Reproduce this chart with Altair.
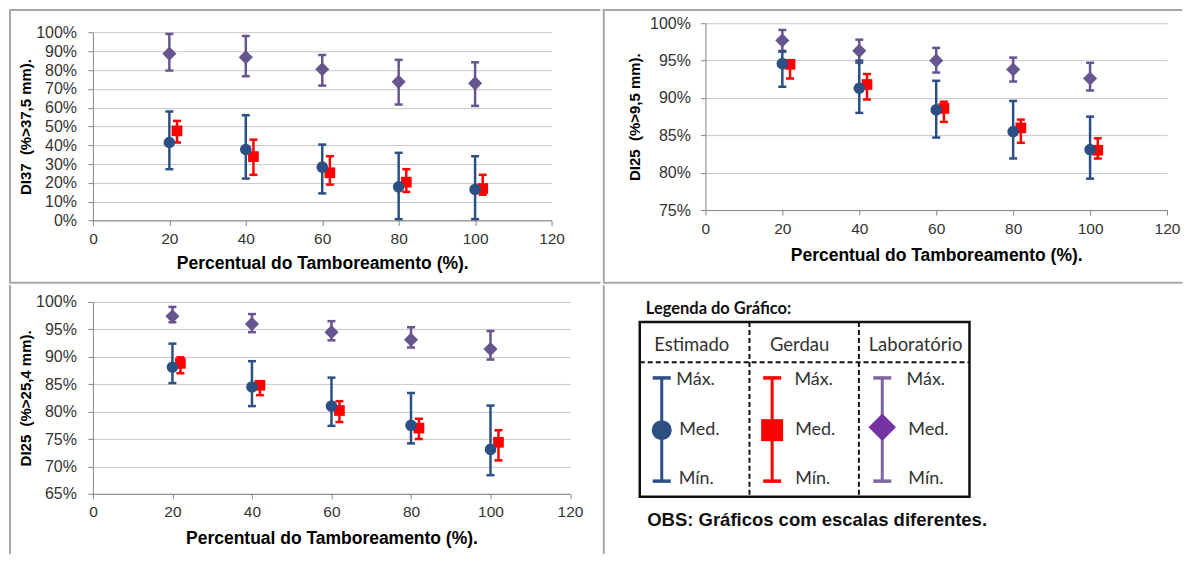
import altair as alt
import pandas as pd

# ---------------- data ----------------
x_est = [20, 40, 60, 80, 100]
x_ger = [22, 42, 62, 82, 102]
x_ticks = [0, 20, 40, 60, 80, 100, 120]
x_title = "Percentual do Tamboreamento (%)."

# Panel 1: DI37 (%>37,5 mm)
p1_est_med = [41.5, 37.8, 28.4, 17.9, 16.5]
p1_est_max = [58.0, 56.0, 40.4, 36.0, 34.2]
p1_est_min = [27.3, 22.3, 14.4, 0.7, 0.7]
p1_ger_med = [47.7, 34.0, 25.4, 20.4, 17.0]
p1_ger_max = [53.0, 43.0, 34.2, 27.3, 24.3]
p1_ger_min = [41.5, 24.3, 19.1, 15.2, 13.7]
p1_lab_med = [88.8, 86.9, 80.5, 73.8, 73.0]
p1_lab_max = [99.3, 98.2, 88.1, 85.5, 84.2]
p1_lab_min = [79.8, 76.8, 71.8, 61.7, 61.0]
p1_y_ticks = [0, 10, 20, 30, 40, 50, 60, 70, 80, 90, 100]
p1_y_title = "DI37\u00a0 (%>37,5 mm)."

# Panel 2: DI25 (%>9,5 mm)
p2_est_med = [94.6, 91.3, 88.4, 85.5, 83.1]
p2_est_max = [96.2, 95.0, 92.3, 89.6, 87.5]
p2_est_min = [91.5, 88.0, 84.7, 81.9, 79.2]
p2_ger_med = [94.5, 91.8, 88.6, 86.0, 83.0]
p2_ger_max = [95.0, 93.2, 89.5, 87.1, 84.6]
p2_ger_min = [92.6, 89.8, 86.8, 84.0, 81.9]
p2_lab_med = [97.7, 96.3, 95.0, 93.8, 92.6]
p2_lab_max = [99.1, 97.8, 96.7, 95.4, 94.7]
p2_lab_min = [96.3, 94.7, 93.4, 92.2, 91.0]
p2_y_ticks = [75, 80, 85, 90, 95, 100]
p2_y_title = "DI25\u00a0 (%>9,5 mm)."

# Panel 3: DI25 (%>25,4 mm)
p3_est_med = [88.1, 84.5, 81.0, 77.5, 73.1]
p3_est_max = [92.4, 89.2, 86.2, 83.4, 81.1]
p3_est_min = [85.2, 81.0, 77.4, 74.2, 68.4]
p3_ger_med = [88.8, 84.8, 80.2, 77.0, 74.4]
p3_ger_max = [89.9, 85.5, 81.9, 78.7, 76.6]
p3_ger_min = [87.0, 83.0, 78.1, 75.0, 71.1]
p3_lab_med = [97.4, 96.0, 94.5, 93.1, 91.4]
p3_lab_max = [99.1, 97.8, 96.5, 95.4, 94.7]
p3_lab_min = [96.3, 94.5, 93.0, 91.7, 89.5]
p3_y_ticks = [65, 70, 75, 80, 85, 90, 95, 100]
p3_y_title = "DI25\u00a0 (%>25,4 mm)."

series_names = ["Estimado", "Gerdau", "Laboratório"]
level_names = ["Máx.", "Med.", "Mín."]
legend_title = "Legenda do Gráfico:"
obs_text = "OBS: Gráficos com escalas diferentes."

# ---------------- styles ----------------
BLUE = "#2C5084"
RED = "#FF0000"
PURPLE = "#66558F"
LEG_PURPLE = "#7E659F"
LEG_DIAMOND = "#7433A3"
BORDER = "#A8A8A8"
FONT = "Liberation Sans"
LFONT = "Lato"

styles = {
    "Estimado": dict(color=BLUE, shape="circle", size=135),
    "Gerdau": dict(color=RED, shape="square", size=115),
    "Laboratório": dict(color=PURPLE, shape="diamond", size=200),
}


def one(val=0):
    return pd.DataFrame({"k": [val]})


def frame(x1, x2, y1, y2):
    return alt.Chart(one()).mark_rect(fill="white", opacity=0).encode(
        x=alt.value(x1), x2=alt.value(x2), y=alt.value(y1), y2=alt.value(y2)
    )


def line(x1, x2, y1, y2, color=BORDER, width=2, dash=None):
    kw = dict(color=color, strokeWidth=width)
    if dash:
        kw["strokeDash"] = dash
    return alt.Chart(one()).mark_rule(**kw).encode(
        x=alt.value(x1), x2=alt.value(x2), y=alt.value(y1), y2=alt.value(y2)
    )


def panel(est, ger, lab, y_dom, y_ticks, y_title, w, h, top_off, cell, borders,
          label_pad, title_pad, x_title_pad):
    # top_off: empty band above the visible plot inside the view group
    xs = alt.Scale(domain=[0, 120], nice=False, zero=False)
    ys = alt.Scale(domain=y_dom, nice=False, zero=False, range=[h + top_off, top_off])
    xax = alt.Axis(values=x_ticks, title=x_title, grid=False, labelFlush=False,
                   labelOverlap=False, tickSize=5, labelPadding=6, titlePadding=x_title_pad,
                   labelFontSize=15.5, titleFontSize=17.5)
    yax = alt.Axis(values=y_ticks, title=y_title, grid=True, labelExpr="datum.value + '%'",
                   labelOverlap=False, tickSize=5, labelPadding=label_pad,
                   titlePadding=title_pad, labelFontSize=16, titleFontSize=15)
    layers = [frame(*cell)]
    for b in borders:
        layers.append(line(*b))
    for name, xv, (med, mx, mn) in [("Laboratório", x_est, lab), ("Gerdau", x_ger, ger),
                                    ("Estimado", x_est, est)]:
        df = pd.DataFrame({"x": xv, "med": med, "mx": mx, "mn": mn})
        st = styles[name]
        base = alt.Chart(df)
        X = alt.X("x:Q", scale=xs, axis=xax)
        layers.append(base.mark_rule(color=st["color"], strokeWidth=2.5).encode(
            x=X, y=alt.Y("mn:Q", scale=ys, axis=yax), y2="mx:Q"))
        layers.append(base.mark_tick(color=st["color"], orient="horizontal", size=8,
                                     thickness=2.5, opacity=1).encode(
            x=X, y=alt.Y("mx:Q", scale=ys, axis=yax)))
        layers.append(base.mark_tick(color=st["color"], orient="horizontal", size=8,
                                     thickness=2.5, opacity=1).encode(
            x=X, y=alt.Y("mn:Q", scale=ys, axis=yax)))
        layers.append(base.mark_point(color=st["color"], shape=st["shape"], size=st["size"],
                                      filled=True, opacity=1).encode(
            x=X, y=alt.Y("med:Q", scale=ys, axis=yax)))
    return alt.layer(*layers).properties(width=w, height=h + top_off)


# row 1 view origin at page y 22.3; panel 1 view origin page x 92
p1 = panel((p1_est_med, p1_est_max, p1_est_min), (p1_ger_med, p1_ger_max, p1_ger_min),
           (p1_lab_med, p1_lab_max, p1_lab_min), [0, 100], p1_y_ticks, p1_y_title,
           459, 188, 9.4, (-84, 508, -14.3, 260.7),
           [(-83, -83, -13.3, 259.7), (-84, 508, -13.3, -13.3), (-84, 508, 259.7, 259.7)],
           11.4, 2.5, 8)
# panel 2 view origin page (702.7, 22.3)
p2 = panel((p2_est_med, p2_est_max, p2_est_min), (p2_ger_med, p2_ger_max, p2_ger_min),
           (p2_lab_med, p2_lab_max, p2_lab_min), [75, 100], p2_y_ticks, p2_y_title,
           462, 187, 0, (-102.7, 477.3, -14.3, 260.7),
           [(-101.7, -101.7, -13.3, 259.7), (-102.7, 477.3, -13.3, -13.3),
            (-102.7, 477.3, 259.7, 259.7)],
           10, 7, 10)
# panel 3 view origin page (92, 300.7)
p3 = panel((p3_est_med, p3_est_max, p3_est_min), (p3_ger_med, p3_ger_max, p3_ger_min),
           (p3_lab_med, p3_lab_max, p3_lab_min), [65, 100], p3_y_ticks, p3_y_title,
           477.5, 192, 0, (-84, 508, -17.7, 252.3),
           [(-83, -83, -16.7, 252.3)],
           11.5, 2, 9)

# ---------------- legend panel (view origin page (702.7, 300.7)) ----------------
OX, OY = 702.7, 300.7


def lx(v):
    return v - OX


def ly(v):
    return v - OY


col_line_x = [659, 769.5, 879.7]
col_head_x = [689, 797, 913]
col_text_x = [[673.6, 676.6, 676], [791.8, 792.5, 792.5], [904, 905.8, 905.8]]
level_y = [379, 429, 477.7]
glyph_top, glyph_bot = 376.7, 480
leg_marker = {"Estimado": dict(color=BLUE, line=BLUE, shape="circle", size=400, dy=0),
              "Gerdau": dict(color=RED, line=RED, shape="square", size=484, dy=0),
              "Laboratório": dict(color=LEG_DIAMOND, line=LEG_PURPLE, shape="diamond",
                                  size=760, dy=-3)}

leg_layers = [frame(lx(600), lx(1180), ly(283), ly(553)),
              line(lx(601), lx(601), ly(284), ly(553))]
leg_layers.append(alt.Chart(one()).mark_text(text=legend_title, font=LFONT, fontSize=16.5,
                                             fontWeight="bold", align="left", baseline="middle",
                                             color="#111").encode(
    x=alt.value(lx(643)), y=alt.value(ly(307.5))))
leg_layers.append(alt.Chart(one()).mark_rect(fill="white", fillOpacity=0, stroke="#111",
                                             strokeWidth=2.5).encode(
    x=alt.value(lx(637)), x2=alt.value(lx(967)), y=alt.value(ly(320.7)),
    y2=alt.value(ly(495.7))))
leg_layers.append(line(lx(637), lx(967), ly(361), ly(361), color="#111", width=2, dash=[5, 3]))
leg_layers.append(line(lx(746.8), lx(746.8), ly(320.7), ly(495.7), color="#111", width=2,
                       dash=[5, 3]))
leg_layers.append(line(lx(856.3), lx(856.3), ly(320.7), ly(495.7), color="#111", width=2,
                       dash=[5, 3]))
for i, name in enumerate(series_names):
    m = leg_marker[name]
    cx = lx(col_line_x[i])
    leg_layers.append(alt.Chart(one()).mark_text(text=name, font=LFONT, fontSize=18.5,
                                                 align="center", baseline="middle",
                                                 color="#333").encode(
        x=alt.value(lx(col_head_x[i])), y=alt.value(ly(343.5))))
    leg_layers.append(line(cx, cx, ly(glyph_top), ly(glyph_bot), color=m["line"], width=3))
    leg_layers.append(line(cx - 9, cx + 9, ly(glyph_top), ly(glyph_top), color=m["line"],
                           width=3.5))
    leg_layers.append(line(cx - 9, cx + 9, ly(glyph_bot), ly(glyph_bot), color=m["line"],
                           width=3.5))
    leg_layers.append(alt.Chart(one()).mark_point(shape=m["shape"], size=m["size"], filled=True,
                                                  color=m["color"], opacity=1).encode(
        x=alt.value(cx), y=alt.value(ly(level_y[1]) + m["dy"])))
    for j, lv in enumerate(level_names):
        leg_layers.append(alt.Chart(one()).mark_text(text=lv, font=LFONT, fontSize=18,
                                                     align="left", baseline="middle",
                                                     color="#333").encode(
            x=alt.value(lx(col_text_x[i][j])), y=alt.value(ly(level_y[j]))))
leg_layers.append(alt.Chart(one()).mark_text(text=obs_text, font=FONT, fontSize=18.5,
                                             fontWeight="bold", align="left", baseline="middle",
                                             color="#111").encode(
    x=alt.value(lx(644.5)), y=alt.value(ly(519))))
legend = alt.layer(*leg_layers).properties(width=477, height=252)

chart = alt.concat(
    p1, p2, p3, legend, columns=2, spacing=0, align="each"
).properties(padding=0, background="white").configure_view(
    strokeWidth=0
).configure_axis(
    labelFont=FONT, titleFont=FONT, labelColor="#333", titleColor="#000",
    titleFontWeight="bold", domainColor="#868686", tickColor="#868686",
    gridColor="#C6C6C6", gridWidth=1, domainWidth=1,
)

chart.save("out.html", embed_options={"renderer": "svg", "actions": False})
